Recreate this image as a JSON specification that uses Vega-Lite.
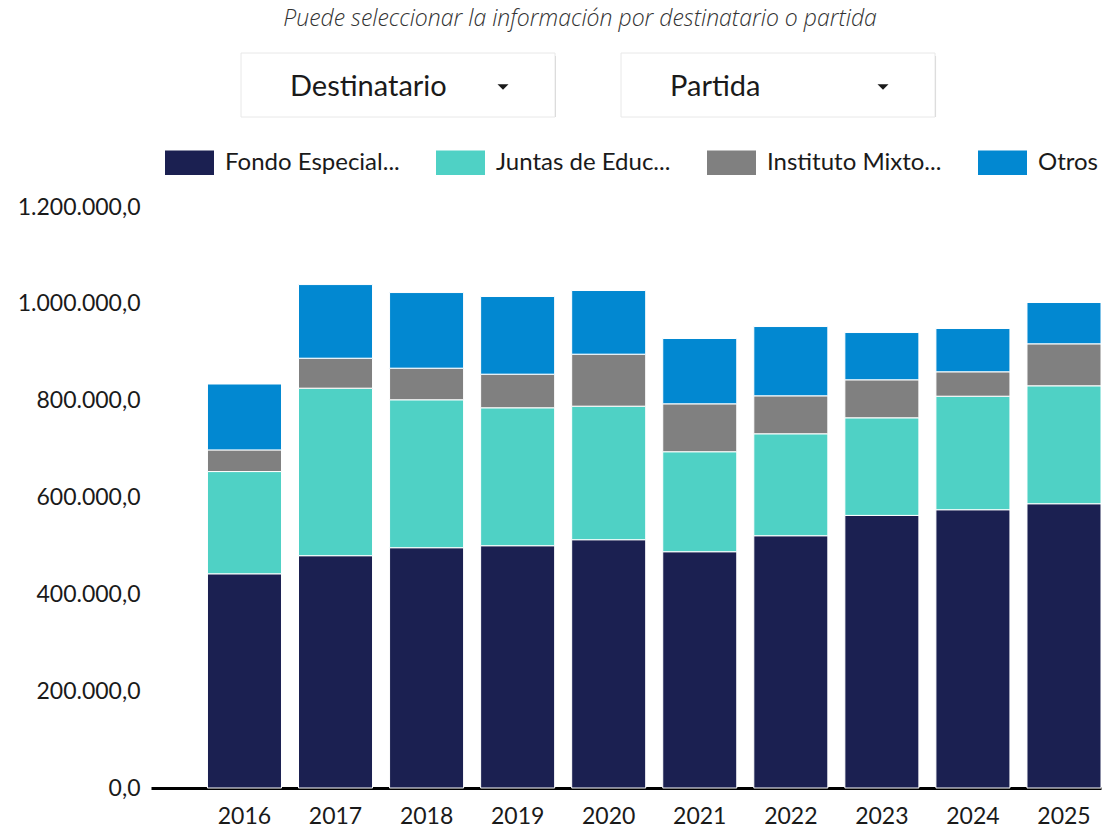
{
  "$schema": "https://vega.github.io/schema/vega-lite/v6.json",
  "padding": {"left": 17, "top": 7, "right": 0, "bottom": 0},
  "background": "white",
  "config": {
    "locale": {"number": {"decimal": ",", "thousands": ".", "grouping": [3], "currency": ["", ""]}},
    "view": {"stroke": null},
    "font": "Lato",
    "concat": {"spacing": 6}
  },
  "title": {
    "text": "Puede seleccionar la información por destinatario o partida",
    "font": "Open Sans",
    "fontStyle": "italic",
    "fontWeight": 300,
    "fontSize": 23,
    "color": "#333333",
    "anchor": "middle",
    "dx": 15,
    "offset": 22
  },
  "resolve": {"legend": {"color": "independent"}, "scale": {"x": "independent"}},
  "vconcat": [
    {
      "width": 950,
      "height": 64,
      "data": {"values": [{"control": "Destinatario"}, {"control": "Partida"}]},
      "encoding": {
        "x": {
          "field": "control",
          "type": "nominal",
          "sort": null,
          "axis": null,
          "scale": {"paddingInner": 0.1737, "paddingOuter": 0.3368, "align": 0.3516}
        }
      },
      "layer": [
        {"mark": {"type": "bar", "fill": "#b0b0b0", "opacity": 0.6, "xOffset": 1, "yOffset": 3}},
        {"mark": {"type": "bar", "fill": "white", "stroke": "#e8e8e8", "strokeWidth": 1}},
        {
          "mark": {"type": "text", "align": "left", "baseline": "middle", "dx": 49, "dy": 2, "fontSize": 29, "color": "#1a1a1a", "font": "Lato"},
          "encoding": {"x": {"field": "control", "type": "nominal", "sort": null, "bandPosition": 0}, "text": {"field": "control"}}
        },
        {
          "mark": {"type": "point", "shape": "M-1,-0.5L1,-0.5L0,0.5Z", "size": 121, "filled": true, "opacity": 1, "color": "#1a1a1a", "xOffset": 262, "yOffset": 2},
          "encoding": {"x": {"field": "control", "type": "nominal", "sort": null, "bandPosition": 0}}
        }
      ]
    },
    {
      "width": 950,
      "height": 581,
      "data": {
        "values": [
          {"anio": "2016", "destinatario": "Fondo Especial para la Educación Superior", "orden": 1, "monto": 442400},
          {"anio": "2016", "destinatario": "Juntas de Educación y Administrativas", "orden": 2, "monto": 211200},
          {"anio": "2016", "destinatario": "Instituto Mixto de Ayuda Social", "orden": 3, "monto": 44700},
          {"anio": "2016", "destinatario": "Otros", "orden": 4, "monto": 136100},
          {"anio": "2017", "destinatario": "Fondo Especial para la Educación Superior", "orden": 1, "monto": 479800},
          {"anio": "2017", "destinatario": "Juntas de Educación y Administrativas", "orden": 2, "monto": 346000},
          {"anio": "2017", "destinatario": "Instituto Mixto de Ayuda Social", "orden": 3, "monto": 61900},
          {"anio": "2017", "destinatario": "Otros", "orden": 4, "monto": 152100},
          {"anio": "2018", "destinatario": "Fondo Especial para la Educación Superior", "orden": 1, "monto": 496300},
          {"anio": "2018", "destinatario": "Juntas de Educación y Administrativas", "orden": 2, "monto": 305500},
          {"anio": "2018", "destinatario": "Instituto Mixto de Ayuda Social", "orden": 3, "monto": 65300},
          {"anio": "2018", "destinatario": "Otros", "orden": 4, "monto": 156200},
          {"anio": "2019", "destinatario": "Fondo Especial para la Educación Superior", "orden": 1, "monto": 500400},
          {"anio": "2019", "destinatario": "Juntas de Educación y Administrativas", "orden": 2, "monto": 284900},
          {"anio": "2019", "destinatario": "Instituto Mixto de Ayuda Social", "orden": 3, "monto": 69400},
          {"anio": "2019", "destinatario": "Otros", "orden": 4, "monto": 160400},
          {"anio": "2020", "destinatario": "Fondo Especial para la Educación Superior", "orden": 1, "monto": 512800},
          {"anio": "2020", "destinatario": "Juntas de Educación y Administrativas", "orden": 2, "monto": 275800},
          {"anio": "2020", "destinatario": "Instituto Mixto de Ayuda Social", "orden": 3, "monto": 107400},
          {"anio": "2020", "destinatario": "Otros", "orden": 4, "monto": 131500},
          {"anio": "2021", "destinatario": "Fondo Especial para la Educación Superior", "orden": 1, "monto": 488000},
          {"anio": "2021", "destinatario": "Juntas de Educación y Administrativas", "orden": 2, "monto": 206500},
          {"anio": "2021", "destinatario": "Instituto Mixto de Ayuda Social", "orden": 3, "monto": 99000},
          {"anio": "2021", "destinatario": "Otros", "orden": 4, "monto": 134900},
          {"anio": "2022", "destinatario": "Fondo Especial para la Educación Superior", "orden": 1, "monto": 521000},
          {"anio": "2022", "destinatario": "Juntas de Educación y Administrativas", "orden": 2, "monto": 210600},
          {"anio": "2022", "destinatario": "Instituto Mixto de Ayuda Social", "orden": 3, "monto": 78400},
          {"anio": "2022", "destinatario": "Otros", "orden": 4, "monto": 143100},
          {"anio": "2023", "destinatario": "Fondo Especial para la Educación Superior", "orden": 1, "monto": 563000},
          {"anio": "2023", "destinatario": "Juntas de Educación y Administrativas", "orden": 2, "monto": 201600},
          {"anio": "2023", "destinatario": "Instituto Mixto de Ayuda Social", "orden": 3, "monto": 78500},
          {"anio": "2023", "destinatario": "Otros", "orden": 4, "monto": 97600},
          {"anio": "2024", "destinatario": "Fondo Especial para la Educación Superior", "orden": 1, "monto": 574700},
          {"anio": "2024", "destinatario": "Juntas de Educación y Administrativas", "orden": 2, "monto": 234500},
          {"anio": "2024", "destinatario": "Instituto Mixto de Ayuda Social", "orden": 3, "monto": 50400},
          {"anio": "2024", "destinatario": "Otros", "orden": 4, "monto": 89400},
          {"anio": "2025", "destinatario": "Fondo Especial para la Educación Superior", "orden": 1, "monto": 587100},
          {"anio": "2025", "destinatario": "Juntas de Educación y Administrativas", "orden": 2, "monto": 243600},
          {"anio": "2025", "destinatario": "Instituto Mixto de Ayuda Social", "orden": 3, "monto": 86700},
          {"anio": "2025", "destinatario": "Otros", "orden": 4, "monto": 85300}
        ]
      },
      "mark": {"type": "bar", "stroke": "white", "strokeWidth": 1},
      "encoding": {
        "x": {
          "field": "anio",
          "type": "ordinal",
          "title": null,
          "scale": {"paddingInner": 0.187, "paddingOuter": 0.31, "align": 1},
          "axis": {"labelAngle": 0, "labelFontSize": 23, "labelColor": "#1a1a1a", "ticks": false, "domainColor": "#000000", "domainWidth": 3, "labelPadding": 17}
        },
        "y": {
          "field": "monto",
          "type": "quantitative",
          "stack": "zero",
          "title": null,
          "scale": {"domain": [0, 1200000], "nice": false},
          "axis": {"format": ",.1f", "values": [0, 200000, 400000, 600000, 800000, 1000000, 1200000], "grid": false, "domain": false, "ticks": false, "labelFontSize": 23, "labelColor": "#1a1a1a", "labelPadding": 11}
        },
        "color": {
          "field": "destinatario",
          "type": "nominal",
          "scale": {
            "domain": ["Fondo Especial para la Educación Superior", "Juntas de Educación y Administrativas", "Instituto Mixto de Ayuda Social", "Otros"],
            "range": ["#1b2051", "#4fd1c5", "#808080", "#0288d1"]
          },
          "legend": {
            "orient": "top",
            "direction": "horizontal",
            "title": null,
            "columns": 4,
            "padding": 14,
            "symbolType": "M-1,-0.5L1,-0.5L1,0.5L-1,0.5Z",
            "symbolSize": 2401,
            "symbolStrokeWidth": 0,
            "symbolOpacity": 1,
            "labelFontSize": 24,
            "labelColor": "#1a1a1a",
            "labelLimit": 400,
            "labelOffset": 11,
            "columnPadding": 36,
            "offset": 18,
            "labelExpr": "datum.label == 'Fondo Especial para la Educación Superior' ? 'Fondo Especial...' : datum.label == 'Juntas de Educación y Administrativas' ? 'Juntas de Educ...' : datum.label == 'Instituto Mixto de Ayuda Social' ? 'Instituto Mixto...' : datum.label"
          }
        },
        "order": {"field": "orden", "type": "quantitative"}
      }
    }
  ]
}
